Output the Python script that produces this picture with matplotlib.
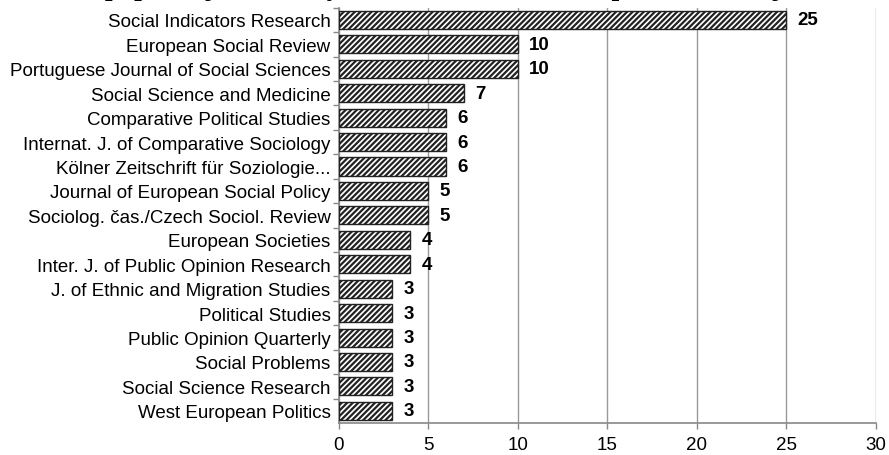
import matplotlib.pyplot as plt
import matplotlib as mpl

# journals with at least 3 papers, top to bottom
journals = ['Social Indicators Research', 'European Social Review',
            'Portuguese Journal of Social Sciences', 'Social Science and Medicine',
            'Comparative Political Studies', 'Internat. J. of Comparative Sociology',
            'Kölner Zeitschrift für Soziologie...', 'Journal of European Social Policy',
            'Sociolog. čas./Czech Sociol. Review', 'European Societies',
            'Inter. J. of Public Opinion Research', 'J. of Ethnic and Migration Studies',
            'Political Studies', 'Public Opinion Quarterly', 'Social Problems',
            'Social Science Research', 'West European Politics']
papers = [25, 10, 10, 7, 6, 6, 6, 5, 5, 4, 4, 3, 3, 3, 3, 3, 3]
xticks = [0, 5, 10, 15, 20, 25, 30]

plt.rcParams['font.family'] = ['Liberation Sans', 'DejaVu Sans']
plt.rcParams['hatch.linewidth'] = 1.6
plt.rcParams['hatch.color'] = '#222222'

fig = plt.figure(figsize=(8.89, 4.56), dpi=100)
ax = fig.add_axes([0.381, 0.070, 0.604, 0.911])

pos = list(range(len(journals)))
ax.barh(pos, papers, height=0.74, color='white', edgecolor='#222222',
        linewidth=1.0, hatch='//////', zorder=3)
for p, v in zip(pos, papers):
    ax.text(v + 0.65, p, str(v), va='center', ha='left', fontsize=13.5,
            fontweight='bold')

ax.set_ylim(len(journals) - 0.5, -0.5)
ax.set_xlim(0, 30)
ax.set_xticks(xticks)
ax.set_xticklabels([str(t) for t in xticks], fontsize=13.5)
ax.set_yticks(pos)
ax.set_yticklabels(journals, fontsize=13.5)
ax.tick_params(axis='y', length=0, pad=6)
ax.set_yticks([p + 0.5 for p in pos[:-1]] + [-0.5], minor=True)
ax.tick_params(axis='y', which='minor', length=4, color='#888888', width=1)
ax.tick_params(axis='x', length=4, color='#888888', width=1, pad=5)

ax.grid(axis='x', color='#999999', linewidth=1, zorder=0)
for s in ['top', 'right']:
    ax.spines[s].set_visible(False)
for s in ['left', 'bottom']:
    ax.spines[s].set_color('#888888')
    ax.spines[s].set_linewidth(1.2)

# title sits above the top edge, only its descenders show
fig.text(0.615, 1.011, 'Most popular journals by number of ESS-based publications: journals with 3+ papers',
         ha='center', va='baseline', fontsize=20, fontweight='bold',
         family=['Liberation Serif', 'DejaVu Serif'])

fig.savefig('out.png', dpi=100)
